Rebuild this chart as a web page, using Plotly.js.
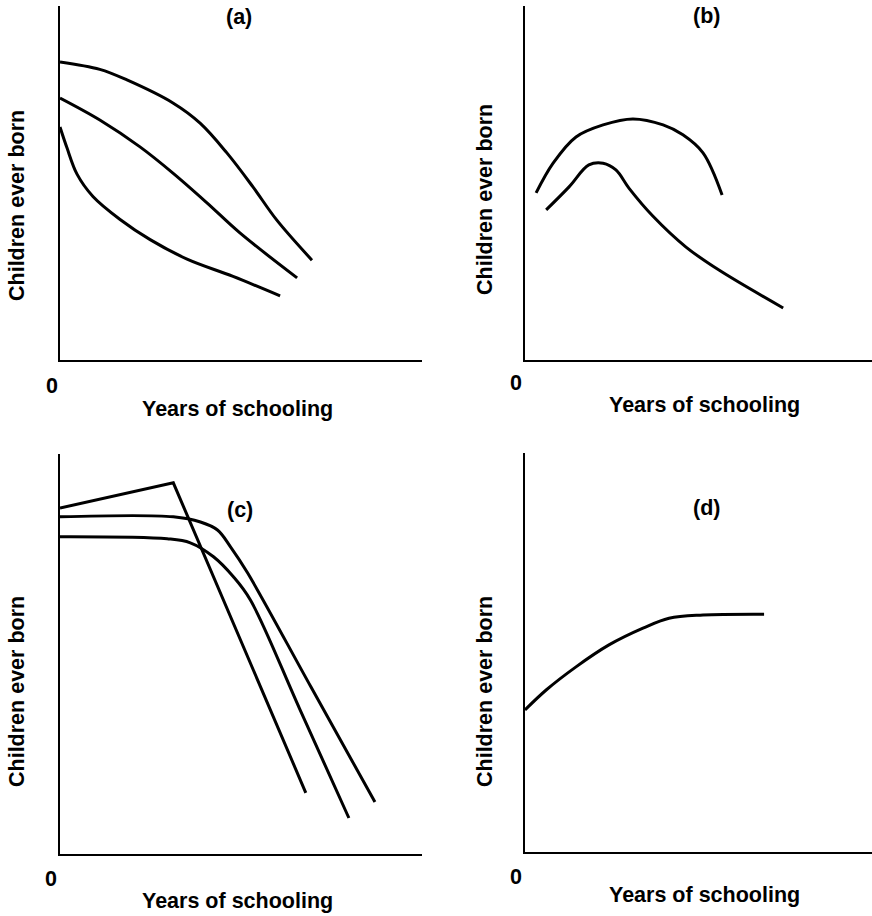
<!DOCTYPE html>
<html>
<head>
<meta charset="utf-8">
<script src="https://cdn.plot.ly/plotly-3.0.1.min.js"></script>
<style>html,body{margin:0;padding:0;background:#fff;}#chart{width:872px;height:916px;}</style>
</head>
<body>
<div id="chart"></div>
<script>
// Panel (a): three declining curves (arbitrary units 0-10)
const aTopX = [0, 1.10, 1.85, 3.12, 3.87, 4.61, 5.33, 5.99, 6.96];
const aTopY = [8.42, 8.21, 7.91, 7.26, 6.69, 5.85, 4.89, 3.95, 2.82];
const aMidX = [0, 1.10, 2.21, 3.12, 4.06, 4.97, 6.55];
const aMidY = [7.40, 6.78, 6.02, 5.28, 4.44, 3.59, 2.32];
const aLowX = [0, 0.19, 0.47, 0.91, 1.66, 2.49, 3.51, 4.78, 6.08];
const aLowY = [6.58, 6.00, 5.25, 4.62, 3.97, 3.40, 2.85, 2.36, 1.81];

// Panel (b): inverted-U curves
const bTopX = [0.32, 0.81, 1.47, 2.25, 3.11, 3.98, 4.55, 5.13, 5.68];
const bTopY = [4.72, 5.56, 6.30, 6.64, 6.81, 6.64, 6.36, 5.85, 4.66];
const bLowX = [0.61, 1.27, 1.84, 2.25, 2.62, 3.00, 3.69, 4.64, 5.59, 7.44];
const bLowY = [4.24, 4.89, 5.51, 5.56, 5.37, 4.85, 4.06, 3.19, 2.54, 1.47];

// Panel (c): flat then steep decline
const cKinkX = [0, 3.13, 6.79];
const cKinkY = [8.65, 9.28, 1.53];
const cUpX = [0, 3.13, 3.88, 4.35, 4.71, 5.18, 6.93, 8.70];
const cUpY = [8.43, 8.43, 8.30, 8.10, 7.68, 7.03, 4.18, 1.30];
const cLowX = [0, 2.96, 3.60, 4.24, 4.79, 5.26, 6.62, 7.98];
const cLowY = [7.93, 7.88, 7.78, 7.43, 6.93, 6.35, 3.63, 0.90];

// Panel (d): rising then flat
const dX = [0, 0.61, 1.47, 2.42, 3.40, 4.15, 5.13, 6.89];
const dY = [3.56, 4.06, 4.64, 5.19, 5.61, 5.86, 5.94, 5.96];

const panelLabels = ['(a)', '(b)', '(c)', '(d)'];
const xTitle = 'Years of schooling';
const yTitle = 'Children ever born';
const originLabel = '0';

const lineStyle = {color: '#000', width: 3};
function tr(x, y, ax, shape) {
  return {x: x, y: y, xaxis: 'x' + ax, yaxis: 'y' + ax, mode: 'lines', type: 'scatter',
    line: Object.assign({shape: shape || 'spline', smoothing: 1}, lineStyle), hoverinfo: 'none'};
}
const traces = [
  tr(aTopX, aTopY, ''), tr(aMidX, aMidY, ''), tr(aLowX, aLowY, ''),
  tr(bTopX, bTopY, '2'), tr(bLowX, bLowY, '2'),
  tr(cKinkX, cKinkY, '3', 'linear'), tr(cUpX, cUpY, '3'), tr(cLowX, cLowY, '3'),
  tr(dX, dY, '4')
];

function axis(domain, anchor) {
  return {domain: domain, anchor: anchor, range: [0, 10], showline: true, linecolor: '#000', linewidth: 2,
    showgrid: false, zeroline: false, showticklabels: false, ticks: '', fixedrange: true};
}
const W = 872, H = 916;
const px = v => v / W, py = v => 1 - v / H;
const xa = [px(60), px(422)], xb = [px(525), 1];
const ya = [py(360), py(6)], yc = [py(854), py(454)], yd = [py(852), py(453)];

const font = {family: 'Liberation Sans, Arial, sans-serif', size: 21.5, color: '#000', weight: 'bold'};
function ann(text, x, y, angle) {
  return {text: text, xref: 'paper', yref: 'paper', x: px(x), y: py(y), xanchor: 'center', yanchor: 'middle',
    showarrow: false, font: font, textangle: angle || 0};
}
const annotations = [
  ann(panelLabels[0], 239, 17), ann(panelLabels[1], 706, 16), ann(panelLabels[2], 240, 510), ann(panelLabels[3], 706, 508),
  ann(xTitle, 238, 409), ann(xTitle, 704, 405), ann(xTitle, 237, 901), ann(xTitle, 704, 895),
  ann(yTitle, 17, 206, -90), ann(yTitle, 485, 200, -90), ann(yTitle, 17, 692, -90), ann(yTitle, 485, 692, -90),
  ann(originLabel, 52, 386), ann(originLabel, 516, 383), ann(originLabel, 51, 879), ann(originLabel, 516, 877)
];

const layout = {
  width: W, height: H, margin: {l: 0, r: 0, t: 0, b: 0}, showlegend: false,
  paper_bgcolor: '#fff', plot_bgcolor: '#fff',
  xaxis: axis(xa, 'y'), yaxis: axis(ya, 'x'),
  xaxis2: axis(xb, 'y2'), yaxis2: axis(ya, 'x2'),
  xaxis3: axis(xa, 'y3'), yaxis3: axis(yc, 'x3'),
  xaxis4: axis(xb, 'y4'), yaxis4: axis(yd, 'x4'),
  annotations: annotations
};
Plotly.newPlot('chart', traces, layout, {staticPlot: true, displayModeBar: false});
</script>
</body>
</html>
